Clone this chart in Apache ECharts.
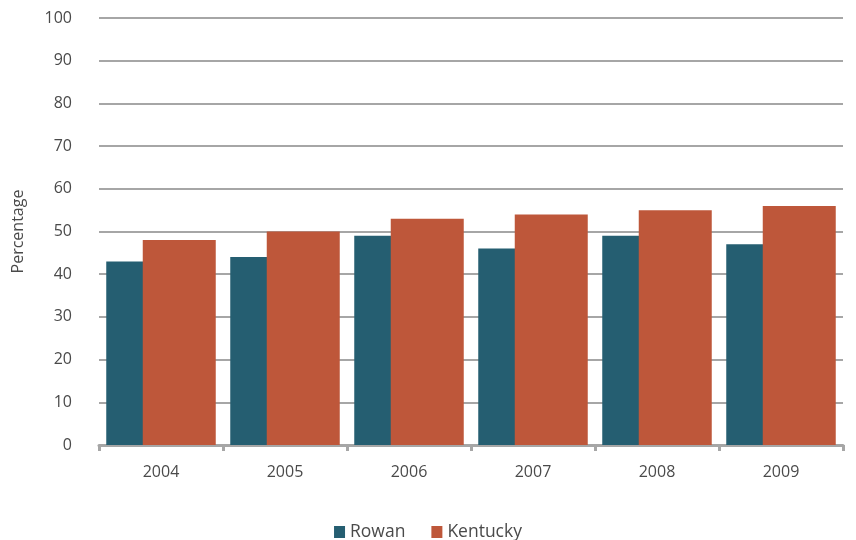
<!DOCTYPE html>
<html><head><meta charset="utf-8">
<script src="https://cdn.jsdelivr.net/npm/echarts@6/dist/echarts.min.js"></script>
<style>html,body{margin:0;padding:0;background:#fff}#c{width:856px;height:540px}</style>
</head><body><div id="c"></div>
<script>
const years = ['2004','2005','2006','2007','2008','2009'];
const rowan = [43,44,49,46,49,47];
const kentucky = [48,50,53,54,55,56];
const chart = echarts.init(document.getElementById('c'));
const font = '"Open Sans", sans-serif';
chart.setOption({
  animation:false,
  grid:{left:99,right:13,top:18,bottom:95,containLabel:false,outerBoundsMode:'none'},
  legend:{bottom:-6,left:'center',itemWidth:11,itemHeight:12,itemGap:26,icon:'rect',
    textStyle:{fontFamily:font,fontSize:17.5,color:'#4a4a4a'},data:['Rowan','Kentucky']},
  xAxis:{type:'category',data:years,
    axisLine:{lineStyle:{color:'#A6A6A6',width:3}},
    axisTick:{show:true,length:6,lineStyle:{color:'#A6A6A6',width:3}},
    axisLabel:{fontFamily:font,fontSize:16,color:'#4a4a4a',margin:19}},
  yAxis:{type:'value',min:0,max:100,interval:10,name:'Percentage',nameLocation:'middle',nameGap:73,
    nameTextStyle:{fontFamily:font,fontSize:16,color:'#4a4a4a'},
    axisLine:{show:false},axisTick:{show:false},
    splitLine:{lineStyle:{color:'#A6A6A6',width:2}},
    axisLabel:{fontFamily:font,fontSize:16,color:'#4a4a4a',margin:27}},
  series:[
    {name:'Rowan',type:'bar',data:rowan,barWidth:73,barGap:'-50%',itemStyle:{color:'#255E71'}},
    {name:'Kentucky',type:'bar',data:kentucky,barWidth:73,barGap:'-50%',itemStyle:{color:'#BE573A'}}
  ]
});
</script></body></html>
